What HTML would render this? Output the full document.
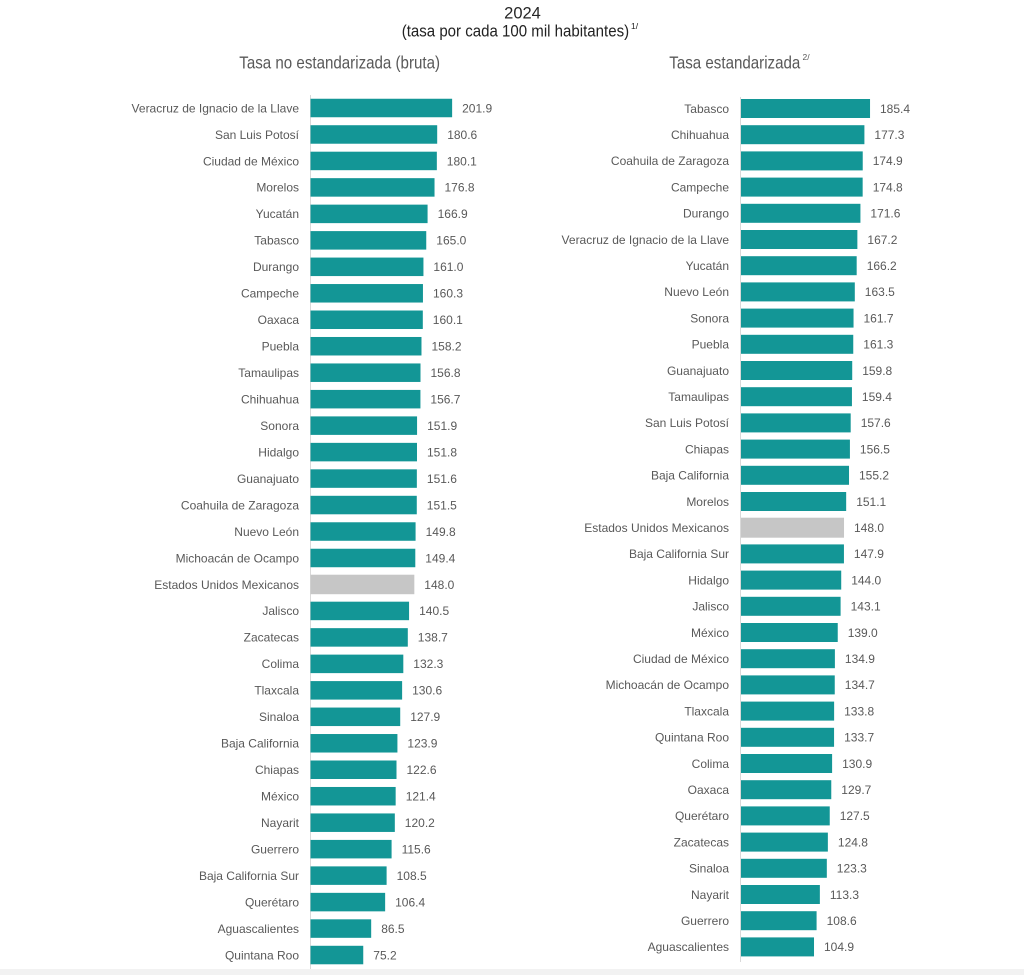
<!DOCTYPE html>
<html>
<head>
<meta charset="utf-8">
<style>
html,body{margin:0;padding:0;background:#fff;}
svg{display:block;}
text{font-family:"Liberation Sans",Arial,sans-serif;}
.l{font-size:12px;fill:#595959;text-anchor:end;}
.v{font-size:12px;fill:#595959;}
.b{fill:#139696;}
.g{fill:#c6c6c6;}
</style>
</head>
<body>
<svg width="1024" height="975" viewBox="0 0 1024 975" xmlns="http://www.w3.org/2000/svg">
<rect x="0" y="0" width="1024" height="975" fill="#fff"/>
<rect x="0" y="969" width="1024" height="6" fill="#f2f2f2"/>

<!-- Titles -->
<text x="522.5" y="18.5" font-size="16.5" fill="#262626" text-anchor="middle">2024</text>
<text transform="translate(401.7,36.5) scale(0.885,1)" font-size="17" fill="#222">(tasa por cada 100 mil habitantes)</text>
<text x="631" y="29" font-size="8.5" fill="#222">1/</text>

<text transform="translate(239.3,68.3) scale(0.84,1)" font-size="18" fill="#595959">Tasa no estandarizada (bruta)</text>
<text transform="translate(669.3,68.3) scale(0.84,1)" font-size="18" fill="#595959">Tasa estandarizada</text>
<text x="802.5" y="60" font-size="8.5" fill="#595959">2/</text>

<!-- Axes -->
<line x1="310.5" y1="95" x2="310.5" y2="969" stroke="#d9d9d9" stroke-width="1"/>
<line x1="740.5" y1="97" x2="740.5" y2="962" stroke="#d9d9d9" stroke-width="1"/>

<!-- Left chart -->
<g transform="translate(310.5,108)"><rect class="b" x="0" y="-9.25" width="141.63" height="18.5"/><text class="l" x="-11.5" y="4.3">Veracruz de Ignacio de la Llave</text><text class="v" x="151.6" y="4.3">201.9</text></g>
<g transform="translate(310.5,134.47)"><rect class="b" x="0" y="-9.25" width="126.69" height="18.5"/><text class="l" x="-11.5" y="4.3">San Luis Potosí</text><text class="v" x="136.7" y="4.3">180.6</text></g>
<g transform="translate(310.5,160.94)"><rect class="b" x="0" y="-9.25" width="126.34" height="18.5"/><text class="l" x="-11.5" y="4.3">Ciudad de México</text><text class="v" x="136.3" y="4.3">180.1</text></g>
<g transform="translate(310.5,187.41)"><rect class="b" x="0" y="-9.25" width="124.03" height="18.5"/><text class="l" x="-11.5" y="4.3">Morelos</text><text class="v" x="134" y="4.3">176.8</text></g>
<g transform="translate(310.5,213.88)"><rect class="b" x="0" y="-9.25" width="117.08" height="18.5"/><text class="l" x="-11.5" y="4.3">Yucatán</text><text class="v" x="127.1" y="4.3">166.9</text></g>
<g transform="translate(310.5,240.35)"><rect class="b" x="0" y="-9.25" width="115.75" height="18.5"/><text class="l" x="-11.5" y="4.3">Tabasco</text><text class="v" x="125.8" y="4.3">165.0</text></g>
<g transform="translate(310.5,266.82)"><rect class="b" x="0" y="-9.25" width="112.94" height="18.5"/><text class="l" x="-11.5" y="4.3">Durango</text><text class="v" x="122.9" y="4.3">161.0</text></g>
<g transform="translate(310.5,293.29)"><rect class="b" x="0" y="-9.25" width="112.45" height="18.5"/><text class="l" x="-11.5" y="4.3">Campeche</text><text class="v" x="122.5" y="4.3">160.3</text></g>
<g transform="translate(310.5,319.76)"><rect class="b" x="0" y="-9.25" width="112.31" height="18.5"/><text class="l" x="-11.5" y="4.3">Oaxaca</text><text class="v" x="122.3" y="4.3">160.1</text></g>
<g transform="translate(310.5,346.23)"><rect class="b" x="0" y="-9.25" width="110.98" height="18.5"/><text class="l" x="-11.5" y="4.3">Puebla</text><text class="v" x="121" y="4.3">158.2</text></g>
<g transform="translate(310.5,372.7)"><rect class="b" x="0" y="-9.25" width="110" height="18.5"/><text class="l" x="-11.5" y="4.3">Tamaulipas</text><text class="v" x="120" y="4.3">156.8</text></g>
<g transform="translate(310.5,399.17)"><rect class="b" x="0" y="-9.25" width="109.93" height="18.5"/><text class="l" x="-11.5" y="4.3">Chihuahua</text><text class="v" x="119.9" y="4.3">156.7</text></g>
<g transform="translate(310.5,425.64)"><rect class="b" x="0" y="-9.25" width="106.56" height="18.5"/><text class="l" x="-11.5" y="4.3">Sonora</text><text class="v" x="116.6" y="4.3">151.9</text></g>
<g transform="translate(310.5,452.11)"><rect class="b" x="0" y="-9.25" width="106.49" height="18.5"/><text class="l" x="-11.5" y="4.3">Hidalgo</text><text class="v" x="116.5" y="4.3">151.8</text></g>
<g transform="translate(310.5,478.58)"><rect class="b" x="0" y="-9.25" width="106.35" height="18.5"/><text class="l" x="-11.5" y="4.3">Guanajuato</text><text class="v" x="116.4" y="4.3">151.6</text></g>
<g transform="translate(310.5,505.05)"><rect class="b" x="0" y="-9.25" width="106.28" height="18.5"/><text class="l" x="-11.5" y="4.3">Coahuila de Zaragoza</text><text class="v" x="116.3" y="4.3">151.5</text></g>
<g transform="translate(310.5,531.52)"><rect class="b" x="0" y="-9.25" width="105.08" height="18.5"/><text class="l" x="-11.5" y="4.3">Nuevo León</text><text class="v" x="115.1" y="4.3">149.8</text></g>
<g transform="translate(310.5,557.99)"><rect class="b" x="0" y="-9.25" width="104.8" height="18.5"/><text class="l" x="-11.5" y="4.3">Michoacán de Ocampo</text><text class="v" x="114.8" y="4.3">149.4</text></g>
<g transform="translate(310.5,584.46)"><rect class="g" x="0" y="-9.75" width="103.82" height="19.5"/><text class="l" x="-11.5" y="4.3">Estados Unidos Mexicanos</text><text class="v" x="113.8" y="4.3">148.0</text></g>
<g transform="translate(310.5,610.93)"><rect class="b" x="0" y="-9.25" width="98.56" height="18.5"/><text class="l" x="-11.5" y="4.3">Jalisco</text><text class="v" x="108.6" y="4.3">140.5</text></g>
<g transform="translate(310.5,637.4)"><rect class="b" x="0" y="-9.25" width="97.3" height="18.5"/><text class="l" x="-11.5" y="4.3">Zacatecas</text><text class="v" x="107.3" y="4.3">138.7</text></g>
<g transform="translate(310.5,663.87)"><rect class="b" x="0" y="-9.25" width="92.81" height="18.5"/><text class="l" x="-11.5" y="4.3">Colima</text><text class="v" x="102.8" y="4.3">132.3</text></g>
<g transform="translate(310.5,690.34)"><rect class="b" x="0" y="-9.25" width="91.62" height="18.5"/><text class="l" x="-11.5" y="4.3">Tlaxcala</text><text class="v" x="101.6" y="4.3">130.6</text></g>
<g transform="translate(310.5,716.81)"><rect class="b" x="0" y="-9.25" width="89.72" height="18.5"/><text class="l" x="-11.5" y="4.3">Sinaloa</text><text class="v" x="99.7" y="4.3">127.9</text></g>
<g transform="translate(310.5,743.28)"><rect class="b" x="0" y="-9.25" width="86.92" height="18.5"/><text class="l" x="-11.5" y="4.3">Baja California</text><text class="v" x="96.9" y="4.3">123.9</text></g>
<g transform="translate(310.5,769.75)"><rect class="b" x="0" y="-9.25" width="86" height="18.5"/><text class="l" x="-11.5" y="4.3">Chiapas</text><text class="v" x="96" y="4.3">122.6</text></g>
<g transform="translate(310.5,796.22)"><rect class="b" x="0" y="-9.25" width="85.16" height="18.5"/><text class="l" x="-11.5" y="4.3">México</text><text class="v" x="95.2" y="4.3">121.4</text></g>
<g transform="translate(310.5,822.69)"><rect class="b" x="0" y="-9.25" width="84.32" height="18.5"/><text class="l" x="-11.5" y="4.3">Nayarit</text><text class="v" x="94.3" y="4.3">120.2</text></g>
<g transform="translate(310.5,849.16)"><rect class="b" x="0" y="-9.25" width="81.09" height="18.5"/><text class="l" x="-11.5" y="4.3">Guerrero</text><text class="v" x="91.1" y="4.3">115.6</text></g>
<g transform="translate(310.5,875.63)"><rect class="b" x="0" y="-9.25" width="76.11" height="18.5"/><text class="l" x="-11.5" y="4.3">Baja California Sur</text><text class="v" x="86.1" y="4.3">108.5</text></g>
<g transform="translate(310.5,902.1)"><rect class="b" x="0" y="-9.25" width="74.64" height="18.5"/><text class="l" x="-11.5" y="4.3">Querétaro</text><text class="v" x="84.6" y="4.3">106.4</text></g>
<g transform="translate(310.5,928.57)"><rect class="b" x="0" y="-9.25" width="60.68" height="18.5"/><text class="l" x="-11.5" y="4.3">Aguascalientes</text><text class="v" x="70.7" y="4.3">86.5</text></g>
<g transform="translate(310.5,955.04)"><rect class="b" x="0" y="-9.25" width="52.75" height="18.5"/><text class="l" x="-11.5" y="4.3">Quintana Roo</text><text class="v" x="62.8" y="4.3">75.2</text></g>

<!-- Right chart -->
<g transform="translate(741,108.5)"><rect class="b" x="0" y="-9.5" width="129.04" height="19"/><text class="l" x="-12" y="4.3">Tabasco</text><text class="v" x="139" y="4.3">185.4</text></g>
<g transform="translate(741,134.7)"><rect class="b" x="0" y="-9.5" width="123.4" height="19"/><text class="l" x="-12" y="4.3">Chihuahua</text><text class="v" x="133.4" y="4.3">177.3</text></g>
<g transform="translate(741,160.9)"><rect class="b" x="0" y="-9.5" width="121.73" height="19"/><text class="l" x="-12" y="4.3">Coahuila de Zaragoza</text><text class="v" x="131.7" y="4.3">174.9</text></g>
<g transform="translate(741,187.1)"><rect class="b" x="0" y="-9.5" width="121.66" height="19"/><text class="l" x="-12" y="4.3">Campeche</text><text class="v" x="131.7" y="4.3">174.8</text></g>
<g transform="translate(741,213.3)"><rect class="b" x="0" y="-9.5" width="119.43" height="19"/><text class="l" x="-12" y="4.3">Durango</text><text class="v" x="129.4" y="4.3">171.6</text></g>
<g transform="translate(741,239.5)"><rect class="b" x="0" y="-9.5" width="116.37" height="19"/><text class="l" x="-12" y="4.3">Veracruz de Ignacio de la Llave</text><text class="v" x="126.4" y="4.3">167.2</text></g>
<g transform="translate(741,265.7)"><rect class="b" x="0" y="-9.5" width="115.68" height="19"/><text class="l" x="-12" y="4.3">Yucatán</text><text class="v" x="125.7" y="4.3">166.2</text></g>
<g transform="translate(741,291.9)"><rect class="b" x="0" y="-9.5" width="113.8" height="19"/><text class="l" x="-12" y="4.3">Nuevo León</text><text class="v" x="123.8" y="4.3">163.5</text></g>
<g transform="translate(741,318.1)"><rect class="b" x="0" y="-9.5" width="112.54" height="19"/><text class="l" x="-12" y="4.3">Sonora</text><text class="v" x="122.5" y="4.3">161.7</text></g>
<g transform="translate(741,344.3)"><rect class="b" x="0" y="-9.5" width="112.26" height="19"/><text class="l" x="-12" y="4.3">Puebla</text><text class="v" x="122.3" y="4.3">161.3</text></g>
<g transform="translate(741,370.5)"><rect class="b" x="0" y="-9.5" width="111.22" height="19"/><text class="l" x="-12" y="4.3">Guanajuato</text><text class="v" x="121.2" y="4.3">159.8</text></g>
<g transform="translate(741,396.7)"><rect class="b" x="0" y="-9.5" width="110.94" height="19"/><text class="l" x="-12" y="4.3">Tamaulipas</text><text class="v" x="120.9" y="4.3">159.4</text></g>
<g transform="translate(741,422.9)"><rect class="b" x="0" y="-9.5" width="109.69" height="19"/><text class="l" x="-12" y="4.3">San Luis Potosí</text><text class="v" x="119.7" y="4.3">157.6</text></g>
<g transform="translate(741,449.1)"><rect class="b" x="0" y="-9.5" width="108.92" height="19"/><text class="l" x="-12" y="4.3">Chiapas</text><text class="v" x="118.9" y="4.3">156.5</text></g>
<g transform="translate(741,475.3)"><rect class="b" x="0" y="-9.5" width="108.02" height="19"/><text class="l" x="-12" y="4.3">Baja California</text><text class="v" x="118" y="4.3">155.2</text></g>
<g transform="translate(741,501.5)"><rect class="b" x="0" y="-9.5" width="105.17" height="19"/><text class="l" x="-12" y="4.3">Morelos</text><text class="v" x="115.2" y="4.3">151.1</text></g>
<g transform="translate(741,527.7)"><rect class="g" x="0" y="-10" width="103.01" height="20"/><text class="l" x="-12" y="4.3">Estados Unidos Mexicanos</text><text class="v" x="113" y="4.3">148.0</text></g>
<g transform="translate(741,553.9)"><rect class="b" x="0" y="-9.5" width="102.94" height="19"/><text class="l" x="-12" y="4.3">Baja California Sur</text><text class="v" x="112.9" y="4.3">147.9</text></g>
<g transform="translate(741,580.1)"><rect class="b" x="0" y="-9.5" width="100.22" height="19"/><text class="l" x="-12" y="4.3">Hidalgo</text><text class="v" x="110.2" y="4.3">144.0</text></g>
<g transform="translate(741,606.3)"><rect class="b" x="0" y="-9.5" width="99.6" height="19"/><text class="l" x="-12" y="4.3">Jalisco</text><text class="v" x="109.6" y="4.3">143.1</text></g>
<g transform="translate(741,632.5)"><rect class="b" x="0" y="-9.5" width="96.74" height="19"/><text class="l" x="-12" y="4.3">México</text><text class="v" x="106.7" y="4.3">139.0</text></g>
<g transform="translate(741,658.7)"><rect class="b" x="0" y="-9.5" width="93.89" height="19"/><text class="l" x="-12" y="4.3">Ciudad de México</text><text class="v" x="103.9" y="4.3">134.9</text></g>
<g transform="translate(741,684.9)"><rect class="b" x="0" y="-9.5" width="93.75" height="19"/><text class="l" x="-12" y="4.3">Michoacán de Ocampo</text><text class="v" x="103.8" y="4.3">134.7</text></g>
<g transform="translate(741,711.1)"><rect class="b" x="0" y="-9.5" width="93.12" height="19"/><text class="l" x="-12" y="4.3">Tlaxcala</text><text class="v" x="103.1" y="4.3">133.8</text></g>
<g transform="translate(741,737.3)"><rect class="b" x="0" y="-9.5" width="93.06" height="19"/><text class="l" x="-12" y="4.3">Quintana Roo</text><text class="v" x="103.1" y="4.3">133.7</text></g>
<g transform="translate(741,763.5)"><rect class="b" x="0" y="-9.5" width="91.11" height="19"/><text class="l" x="-12" y="4.3">Colima</text><text class="v" x="101.1" y="4.3">130.9</text></g>
<g transform="translate(741,789.7)"><rect class="b" x="0" y="-9.5" width="90.27" height="19"/><text class="l" x="-12" y="4.3">Oaxaca</text><text class="v" x="100.3" y="4.3">129.7</text></g>
<g transform="translate(741,815.9)"><rect class="b" x="0" y="-9.5" width="88.74" height="19"/><text class="l" x="-12" y="4.3">Querétaro</text><text class="v" x="98.7" y="4.3">127.5</text></g>
<g transform="translate(741,842.1)"><rect class="b" x="0" y="-9.5" width="86.86" height="19"/><text class="l" x="-12" y="4.3">Zacatecas</text><text class="v" x="96.9" y="4.3">124.8</text></g>
<g transform="translate(741,868.3)"><rect class="b" x="0" y="-9.5" width="85.82" height="19"/><text class="l" x="-12" y="4.3">Sinaloa</text><text class="v" x="95.8" y="4.3">123.3</text></g>
<g transform="translate(741,894.5)"><rect class="b" x="0" y="-9.5" width="78.86" height="19"/><text class="l" x="-12" y="4.3">Nayarit</text><text class="v" x="88.9" y="4.3">113.3</text></g>
<g transform="translate(741,920.7)"><rect class="b" x="0" y="-9.5" width="75.59" height="19"/><text class="l" x="-12" y="4.3">Guerrero</text><text class="v" x="85.6" y="4.3">108.6</text></g>
<g transform="translate(741,946.9)"><rect class="b" x="0" y="-9.5" width="73.01" height="19"/><text class="l" x="-12" y="4.3">Aguascalientes</text><text class="v" x="83" y="4.3">104.9</text></g>
</svg>
</body>
</html>
